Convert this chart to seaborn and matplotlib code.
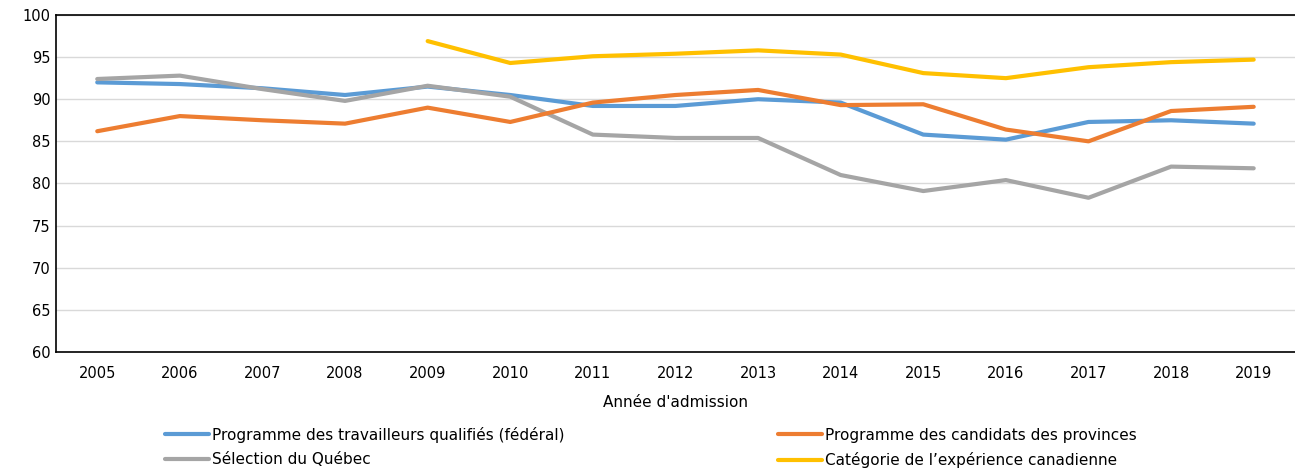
import pandas as pd
import matplotlib
matplotlib.use("Agg")
import matplotlib.pyplot as plt
import seaborn as sns

years = list(range(2005, 2020))

federal = [92.0, 91.8, 91.3, 90.5, 91.5, 90.5, 89.2, 89.2, 90.0, 89.6, 85.8, 85.2, 87.3, 87.5, 87.1]
provinces = [86.2, 88.0, 87.5, 87.1, 89.0, 87.3, 89.6, 90.5, 91.1, 89.3, 89.4, 86.4, 85.0, 88.6, 89.1]
quebec = [92.4, 92.8, 91.2, 89.8, 91.6, 90.3, 85.8, 85.4, 85.4, 81.0, 79.1, 80.4, 78.3, 82.0, 81.8]
cec_years = list(range(2009, 2020))
cec = [96.9, 94.3, 95.1, 95.4, 95.8, 95.3, 93.1, 92.5, 93.8, 94.4, 94.7]

labels = [
    "Programme des travailleurs qualifiés (fédéral)",
    "Sélection du Québec",
    "Programme des candidats des provinces",
    "Catégorie de l\u2019expérience canadienne",
]
colors = ["#5B9BD5", "#A5A5A5", "#ED7D31", "#FFC000"]

frames = [
    pd.DataFrame({"year": years, "value": federal, "series": labels[0]}),
    pd.DataFrame({"year": years, "value": quebec, "series": labels[1]}),
    pd.DataFrame({"year": years, "value": provinces, "series": labels[2]}),
    pd.DataFrame({"year": cec_years, "value": cec, "series": labels[3]}),
]
df = pd.concat(frames, ignore_index=True)

sns.set_style("white")
plt.rcParams["font.family"] = ["DejaVu Sans"]
plt.rcParams["font.size"] = 10.5
plt.rcParams["text.color"] = "black"
plt.rcParams["axes.labelcolor"] = "black"

fig = plt.figure(figsize=(12.95, 4.68), dpi=100)
ax = fig.add_axes([0.0432, 0.248, 0.9568, 0.72])

sns.lineplot(data=df, x="year", y="value", hue="series", hue_order=labels,
             palette=colors, linewidth=3, ax=ax, legend=False,
             solid_capstyle="round")

ax.set_xlim(2004.5, 2019.5)
ax.set_ylim(60, 100)
ax.set_xticks(years)
ax.set_xticklabels([str(y) for y in years])
ax.set_yticks(range(60, 101, 5))
ax.yaxis.grid(True, color="#d9d9d9", linewidth=1)
ax.set_axisbelow(True)
ax.tick_params(axis="both", length=0, labelsize=10.5, colors="black")
ax.tick_params(axis="x", pad=10)
ax.tick_params(axis="y", pad=4)
ax.set_xlabel("Année d'admission", fontsize=11, labelpad=10, color="black")
ax.set_ylabel("")
for side in ["left", "bottom", "top"]:
    ax.spines[side].set_color("black")
    ax.spines[side].set_linewidth(1.2)
ax.spines["right"].set_visible(False)

handles = [plt.Line2D([], [], color=c, linewidth=3, solid_capstyle="round") for c in colors]
fig.legend(handles, labels, ncol=2, loc="lower left", bbox_to_anchor=(0.1274, 0.0),
           frameon=False, fontsize=11, handlelength=2.9, handletextpad=0.15,
           columnspacing=14, labelspacing=0.62, borderaxespad=0, borderpad=0,
           labelcolor="black")

fig.savefig("out.png", dpi=100)
